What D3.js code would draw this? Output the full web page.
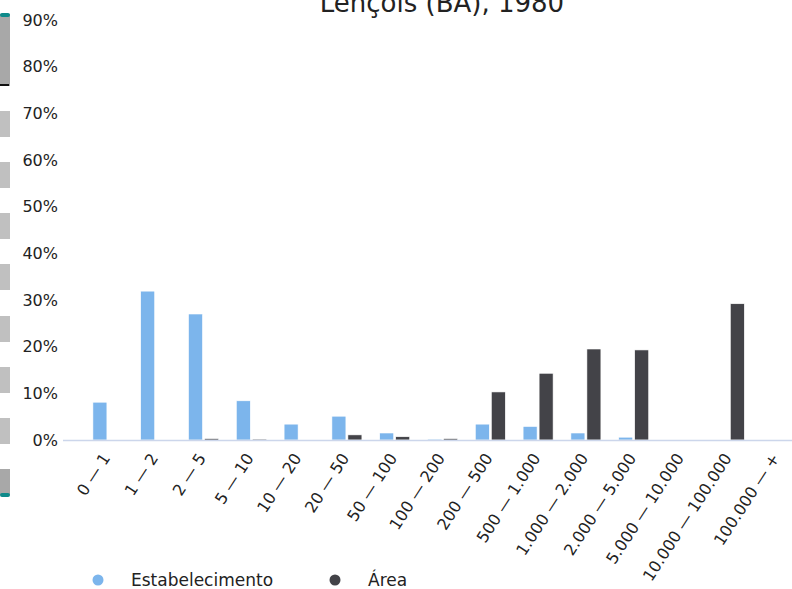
<!DOCTYPE html>
<html>
<head>
<meta charset="utf-8">
<script src="https://cdn.jsdelivr.net/npm/d3@7"></script>
<style>
  html, body { margin: 0; padding: 0; background: #fff; }
  svg { display: block; font-family: "DejaVu Sans", sans-serif; }
</style>
</head>
<body>
<svg id="chart" width="792" height="589"></svg>
<script>
const categories = ["0 — 1", "1 — 2", "2 — 5", "5 — 10", "10 — 20", "20 — 50", "50 — 100",
  "100 — 200", "200 — 500", "500 — 1.000", "1.000 — 2.000", "2.000 — 5.000",
  "5.000 — 10.000", "10.000 — 100.000", "100.000 — +"];
const estabelecimento = [8.1, 31.9, 27.0, 8.4, 3.4, 5.1, 1.5, 0.2, 3.4, 2.9, 1.5, 0.6, 0, 0, 0];
const area = [0, 0, 0.3, 0.2, 0, 1.1, 0.7, 0.3, 10.3, 14.3, 19.5, 19.3, 0, 29.2, 0];
const yTicks = [0, 10, 20, 30, 40, 50, 60, 70, 80, 90];
const seriesNames = ["Estabelecimento", "Área"];
const title = "Lençois (BA), 1980";

const colors = ["#7cb5ec", "#434348"];
const svg = d3.select("#chart");

// left scrollbar-like artifact
const art = svg.append("g");
art.append("rect").attr("x", 0).attr("y", 14).attr("width", 10).attr("height", 72).attr("fill", "#a8a8a8");
art.append("rect").attr("x", 0).attr("y", 13).attr("width", 10).attr("height", 4).attr("rx", 2).attr("fill", "#0e8a8a");
art.append("rect").attr("x", 0).attr("y", 84).attr("width", 9).attr("height", 2).attr("fill", "#111");
[111, 162, 213, 264, 316, 367, 418].forEach(y => {
  art.append("rect").attr("x", 0).attr("y", y).attr("width", 10).attr("height", 26).attr("fill", "#c0c0c0");
});
art.append("rect").attr("x", 0).attr("y", 469).attr("width", 10).attr("height", 26).attr("fill", "#a8a8a8");
art.append("rect").attr("x", 0).attr("y", 493).attr("width", 10).attr("height", 4).attr("rx", 2).attr("fill", "#0e8a8a");

const x = d3.scaleBand().domain(categories).range([84, 801]);
const y = d3.scaleLinear().domain([0, 90]).range([440, 20]);

// title
svg.append("text").attr("x", 442).attr("y", 12).attr("text-anchor", "middle")
  .attr("font-size", 26).attr("fill", "#222").text(title);

// y axis labels
const yAxis = d3.axisLeft(y).tickValues(yTicks).tickFormat(d => d + "%").tickSize(0).tickPadding(0);
const yg = svg.append("g").attr("transform", "translate(58,0)").call(yAxis);
yg.select(".domain").remove();
yg.selectAll("text").attr("font-size", 16).attr("fill", "#222").attr("font-family", "DejaVu Sans");

// bars
const bw = 14;
const groups = svg.append("g");
groups.selectAll("rect.e").data(categories).enter().append("rect")
  .attr("x", (d) => x(d) + x.bandwidth() / 2 - bw - 1)
  .attr("y", (d, i) => y(estabelecimento[i]))
  .attr("width", bw)
  .attr("height", (d, i) => y(0) - y(estabelecimento[i]))
  .attr("fill", colors[0]).attr("stroke", "#fff").attr("stroke-width", 0.6);
groups.selectAll("rect.a").data(categories).enter().append("rect")
  .attr("x", (d) => x(d) + x.bandwidth() / 2 + 1)
  .attr("y", (d, i) => y(area[i]))
  .attr("width", bw)
  .attr("height", (d, i) => y(0) - y(area[i]))
  .attr("fill", colors[1]).attr("stroke", "#fff").attr("stroke-width", 0.6);

// x axis
svg.append("line").attr("x1", 63).attr("x2", 792).attr("y1", 440.5).attr("y2", 440.5)
  .attr("stroke", "#ccd6eb").attr("stroke-width", 1.5);
const xAxis = d3.axisBottom(x).tickSize(0).tickPadding(0);
const xg = svg.append("g").attr("transform", "translate(0,440)").call(xAxis);
xg.select(".domain").remove();
xg.selectAll(".tick text")
  .attr("font-size", 16).attr("fill", "#222").attr("font-family", "DejaVu Sans")
  .attr("text-anchor", "end").attr("dy", null).attr("y", null)
  .attr("transform", "translate(3,18) rotate(-57)");

// legend
const leg = svg.append("g");
const legX = [98, 335];
seriesNames.forEach((n, i) => {
  leg.append("circle").attr("cx", legX[i]).attr("cy", 580).attr("r", 5.5).attr("fill", colors[i]);
  leg.append("text").attr("x", legX[i] + 33).attr("y", 586).attr("font-size", 17)
    .attr("fill", "#222").text(n);
});
</script>
</body>
</html>
